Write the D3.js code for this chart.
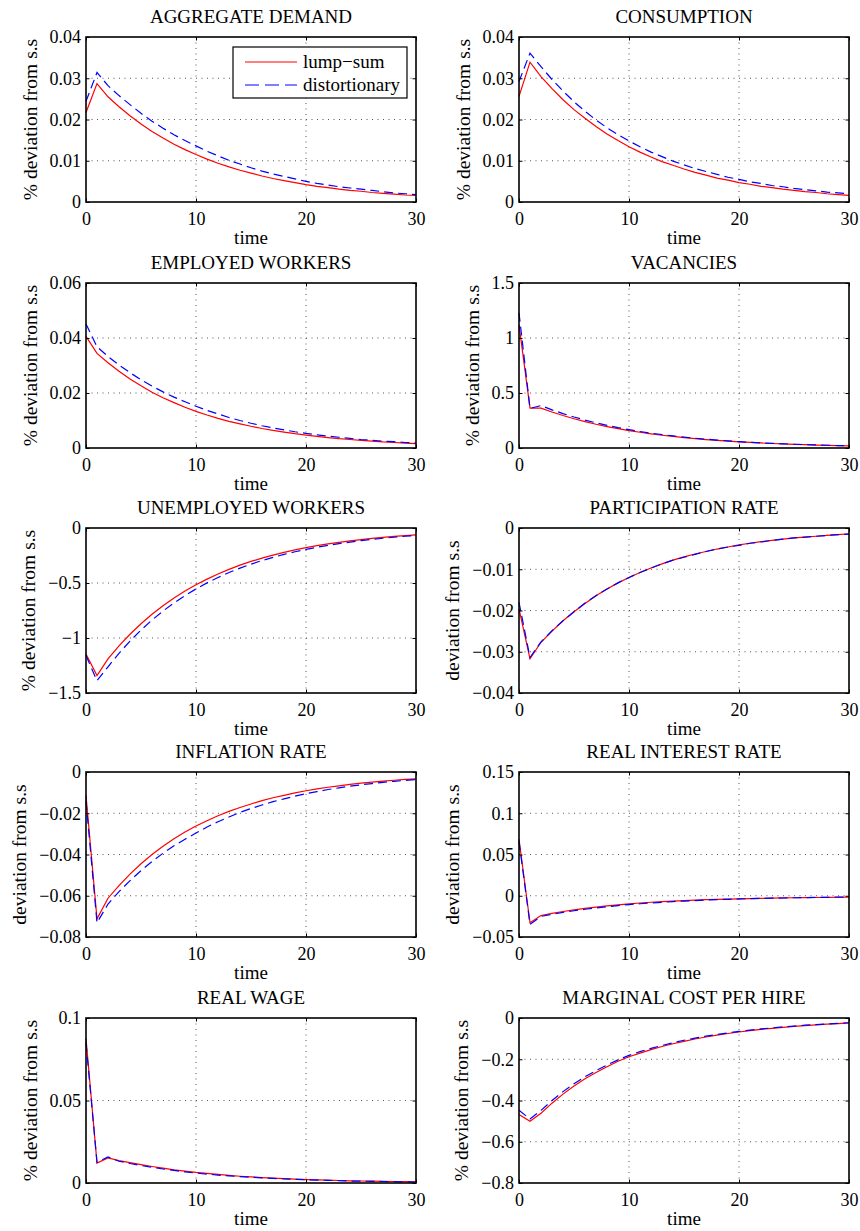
<!DOCTYPE html>
<html>
<head>
<meta charset="utf-8">
<script src="https://cdn.jsdelivr.net/npm/d3@7"></script>
<style>
  body { margin: 0; background: #fff; }
</style>
</head>
<body>
<div id="chart"></div>
<script>
// ---- data ----
const time = [0,1,2,3,4,5,6,7,8,9,10,11,12,13,14,15,16,17,18,19,20,21,22,23,24,25,26,27,28,29,30];
const xTicks = [0, 10, 20, 30];

const titles = ["AGGREGATE DEMAND", "CONSUMPTION", "EMPLOYED WORKERS", "VACANCIES",
  "UNEMPLOYED WORKERS", "PARTICIPATION RATE", "INFLATION RATE", "REAL INTEREST RATE",
  "REAL WAGE", "MARGINAL COST PER HIRE"];

const yLabels = ["% deviation from s.s", "% deviation from s.s", "% deviation from s.s",
  "% deviation from s.s", "% deviation from s.s", "deviation from s.s", "deviation from s.s",
  "deviation from s.s", "% deviation from s.s", "% deviation from s.s"];

const yTicks = [
  [0, 0.01, 0.02, 0.03, 0.04],
  [0, 0.01, 0.02, 0.03, 0.04],
  [0, 0.02, 0.04, 0.06],
  [0, 0.5, 1, 1.5],
  [-1.5, -1, -0.5, 0],
  [-0.04, -0.03, -0.02, -0.01, 0],
  [-0.08, -0.06, -0.04, -0.02, 0],
  [-0.05, 0, 0.05, 0.1, 0.15],
  [0, 0.05, 0.1],
  [-0.8, -0.6, -0.4, -0.2, 0]
];

const legendLabels = ["lump\u2212sum", "distortionary"];

// lump-sum (red, solid)
const adLump  = [0.0217,0.0287,0.0255,0.0231,0.0209,0.0189,0.0171,0.0155,0.0140,0.0127,0.0115,0.0104,0.0094,0.0085,0.0077,0.0070,0.0063,0.0057,0.0052,0.0047,0.0042,0.0038,0.0035,0.0031,0.0028,0.0026,0.0023,0.0021,0.0019,0.0017,0.0016];
const cLump   = [0.0256,0.0339,0.0304,0.0275,0.0248,0.0224,0.0203,0.0183,0.0165,0.0149,0.0134,0.0121,0.0109,0.0098,0.0089,0.0080,0.0072,0.0065,0.0058,0.0053,0.0047,0.0043,0.0038,0.0035,0.0031,0.0028,0.0025,0.0023,0.0020,0.0018,0.0016];
const nLump   = [0.0406,0.0344,0.0310,0.0279,0.0251,0.0226,0.0203,0.0183,0.0165,0.0148,0.0133,0.0120,0.0108,0.0097,0.0088,0.0079,0.0071,0.0064,0.0058,0.0052,0.0047,0.0042,0.0038,0.0034,0.0031,0.0028,0.0025,0.0022,0.0020,0.0018,0.0016];
const vLump   = [1.12,0.362,0.362,0.327,0.295,0.266,0.240,0.216,0.195,0.176,0.158,0.143,0.129,0.116,0.105,0.094,0.085,0.077,0.069,0.062,0.056,0.051,0.046,0.041,0.037,0.033,0.030,0.027,0.024,0.022,0.020];
const uLump   = [-1.145,-1.342,-1.19,-1.072,-0.966,-0.870,-0.784,-0.706,-0.636,-0.573,-0.516,-0.465,-0.418,-0.376,-0.338,-0.304,-0.274,-0.246,-0.221,-0.199,-0.179,-0.161,-0.145,-0.130,-0.117,-0.105,-0.095,-0.085,-0.077,-0.069,-0.062];
const prLump  = [-0.0196,-0.0317,-0.0277,-0.0250,-0.0225,-0.0203,-0.0183,-0.0164,-0.0148,-0.0133,-0.0120,-0.0108,-0.0097,-0.0087,-0.0078,-0.0070,-0.0063,-0.0057,-0.0051,-0.0046,-0.0041,-0.0037,-0.0033,-0.0030,-0.0027,-0.0024,-0.0022,-0.0020,-0.0018,-0.0016,-0.0014];
const piLump  = [-0.0114,-0.0712,-0.0612,-0.0551,-0.0495,-0.0445,-0.0400,-0.0360,-0.0324,-0.0291,-0.0262,-0.0236,-0.0212,-0.0191,-0.0172,-0.0155,-0.0139,-0.0125,-0.0113,-0.0101,-0.0091,-0.0082,-0.0074,-0.0067,-0.0060,-0.0054,-0.0049,-0.0044,-0.0040,-0.0036,-0.0033];
const rLump   = [0.0685,-0.0327,-0.0239,-0.0214,-0.0191,-0.0171,-0.0153,-0.0137,-0.0123,-0.0110,-0.0098,-0.0088,-0.0079,-0.0071,-0.0064,-0.0058,-0.0053,-0.0048,-0.0044,-0.0040,-0.0037,-0.0034,-0.0031,-0.0029,-0.0026,-0.0024,-0.0022,-0.0021,-0.0019,-0.0018,-0.0017];
const wLump   = [0.0875,0.0121,0.0152,0.0136,0.0123,0.0111,0.0100,0.0090,0.0080,0.0072,0.0064,0.0058,0.0052,0.0046,0.0041,0.0037,0.0033,0.0030,0.0027,0.0024,0.0021,0.0019,0.0017,0.0015,0.0013,0.0012,0.0011,0.0010,0.0009,0.0008,0.0007];
const mcLump  = [-0.468,-0.501,-0.462,-0.413,-0.369,-0.330,-0.295,-0.264,-0.236,-0.210,-0.188,-0.170,-0.153,-0.138,-0.125,-0.113,-0.102,-0.092,-0.083,-0.075,-0.068,-0.061,-0.055,-0.050,-0.045,-0.041,-0.037,-0.033,-0.030,-0.027,-0.024];

// distortionary (blue, dashed)
const adDist  = [0.0244,0.0314,0.0282,0.0258,0.0236,0.0215,0.0196,0.0179,0.0163,0.0149,0.0136,0.0123,0.0112,0.0101,0.0092,0.0083,0.0075,0.0068,0.0062,0.0056,0.0050,0.0045,0.0041,0.0037,0.0034,0.0031,0.0028,0.0025,0.0022,0.0020,0.0018];
const cDist   = [0.0292,0.0361,0.0328,0.0297,0.0269,0.0243,0.0220,0.0199,0.0180,0.0163,0.0148,0.0134,0.0121,0.0110,0.0099,0.0090,0.0081,0.0074,0.0067,0.0060,0.0055,0.0049,0.0045,0.0040,0.0037,0.0033,0.0030,0.0027,0.0024,0.0022,0.0020];
const nDist   = [0.0451,0.0368,0.0333,0.0302,0.0274,0.0248,0.0225,0.0204,0.0185,0.0168,0.0152,0.0137,0.0124,0.0111,0.0100,0.0090,0.0081,0.0073,0.0066,0.0059,0.0053,0.0048,0.0043,0.0039,0.0035,0.0031,0.0028,0.0025,0.0023,0.0020,0.0018];
const vDist   = [1.23,0.36,0.386,0.347,0.313,0.282,0.254,0.229,0.206,0.185,0.167,0.150,0.135,0.122,0.110,0.099,0.089,0.080,0.072,0.065,0.058,0.052,0.047,0.042,0.038,0.034,0.031,0.028,0.025,0.022,0.020];
const uDist   = [-1.16,-1.388,-1.262,-1.139,-1.028,-0.928,-0.837,-0.755,-0.681,-0.614,-0.554,-0.499,-0.450,-0.405,-0.365,-0.329,-0.296,-0.267,-0.240,-0.216,-0.195,-0.175,-0.158,-0.142,-0.128,-0.115,-0.103,-0.093,-0.084,-0.075,-0.068];
const prDist  = [-0.0180,-0.0314,-0.0276,-0.0249,-0.0225,-0.0203,-0.0182,-0.0164,-0.0148,-0.0133,-0.0120,-0.0108,-0.0097,-0.0087,-0.0078,-0.0071,-0.0064,-0.0057,-0.0051,-0.0046,-0.0042,-0.0037,-0.0034,-0.0030,-0.0027,-0.0024,-0.0022,-0.0020,-0.0018,-0.0016,-0.0015];
const piDist  = [-0.0140,-0.0731,-0.0640,-0.0580,-0.0527,-0.0478,-0.0434,-0.0394,-0.0358,-0.0326,-0.0296,-0.0267,-0.0241,-0.0218,-0.0196,-0.0177,-0.0160,-0.0144,-0.0130,-0.0117,-0.0105,-0.0095,-0.0085,-0.0077,-0.0069,-0.0062,-0.0056,-0.0050,-0.0045,-0.0041,-0.0037];
const rDist   = [0.066,-0.0347,-0.0250,-0.0225,-0.0202,-0.0182,-0.0164,-0.0148,-0.0133,-0.0119,-0.0107,-0.0097,-0.0087,-0.0079,-0.0071,-0.0064,-0.0058,-0.0052,-0.0047,-0.0043,-0.0039,-0.0035,-0.0032,-0.0029,-0.0027,-0.0024,-0.0022,-0.0020,-0.0019,-0.0017,-0.0016];
const wDist   = [0.085,0.0125,0.0158,0.0132,0.0118,0.0106,0.0095,0.0085,0.0076,0.0068,0.0060,0.0054,0.0048,0.0043,0.0039,0.0035,0.0031,0.0028,0.0025,0.0022,0.0020,0.0018,0.0016,0.0014,0.0012,0.0011,0.0010,0.0009,0.0008,0.0007,0.0006];
const mcDist  = [-0.447,-0.490,-0.448,-0.400,-0.357,-0.319,-0.285,-0.255,-0.228,-0.203,-0.181,-0.163,-0.147,-0.133,-0.120,-0.108,-0.098,-0.088,-0.080,-0.072,-0.065,-0.059,-0.053,-0.048,-0.043,-0.039,-0.035,-0.032,-0.029,-0.026,-0.023];

const lumpSeries = [adLump, cLump, nLump, vLump, uLump, prLump, piLump, rLump, wLump, mcLump];
const distSeries = [adDist, cDist, nDist, vDist, uDist, prDist, piDist, rDist, wDist, mcDist];

(function () {
  const W = 860, H = 1231;
  const colLeft = [86, 519];
  const rowTop  = [37, 283, 528, 772, 1018];
  const plotW = 330, plotH = 165;
  const tickLen = 3.5;
  const serif = '"Liberation Serif", "Times New Roman", serif';

  const svg = d3.select("#chart").append("svg")
      .attr("width", W)
      .attr("height", H);

  // matlab-ish numbers: shortest form, real minus sign
  const fmt = v => {
    const s = String(+Math.abs(v).toFixed(6));
    return (v < 0 ? "\u2212" : "") + s;
  };

  titles.forEach((title, i) => {
    const col = i % 2, row = Math.floor(i / 2);
    const g = svg.append("g")
        .attr("transform", `translate(${colLeft[col]},${rowTop[row]})`);

    const x = d3.scaleLinear().domain([0, 30]).range([0, plotW]);
    const y = d3.scaleLinear().domain(d3.extent(yTicks[i])).range([plotH, 0]);

    // dotted grid (interior ticks only)
    g.selectAll(".gx").data(xTicks.slice(1, -1)).join("line")
      .attr("x1", d => x(d)).attr("x2", d => x(d))
      .attr("y1", 0).attr("y2", plotH)
      .attr("stroke", "#555").attr("stroke-width", 1)
      .attr("stroke-dasharray", "1,4.5");
    g.selectAll(".gy").data(yTicks[i].slice(1, -1)).join("line")
      .attr("x1", 0).attr("x2", plotW)
      .attr("y1", d => y(d)).attr("y2", d => y(d))
      .attr("stroke", "#555").attr("stroke-width", 1)
      .attr("stroke-dasharray", "1,4.5");

    // series
    const line = d3.line()
      .x((d, j) => x(time[j]))
      .y(d => y(d));

    g.append("path")
      .attr("d", line(lumpSeries[i]))
      .attr("fill", "none")
      .attr("stroke", "#ff0000")
      .attr("stroke-width", 1.2);

    g.append("path")
      .attr("d", line(distSeries[i]))
      .attr("fill", "none")
      .attr("stroke", "#0000ff")
      .attr("stroke-width", 1.2)
      .attr("stroke-dasharray", "9,5");

    // axes, ticks pointing inward
    const xAxis = g.append("g")
      .attr("transform", `translate(0,${plotH})`)
      .call(d3.axisBottom(x).tickValues(xTicks).tickSize(-tickLen).tickPadding(10).tickFormat(fmt));
    g.append("g")
      .call(d3.axisTop(x).tickValues(xTicks).tickSize(-tickLen).tickFormat(""));
    const yAxis = g.append("g")
      .call(d3.axisLeft(y).tickValues(yTicks[i]).tickSize(-tickLen).tickPadding(5).tickFormat(fmt));
    g.append("g")
      .attr("transform", `translate(${plotW},0)`)
      .call(d3.axisRight(y).tickValues(yTicks[i]).tickSize(-tickLen).tickFormat(""));

    g.selectAll(".domain").remove();
    g.selectAll(".tick line").attr("stroke", "#000").attr("stroke-width", 1);
    xAxis.selectAll("text").attr("font-size", 18);
    yAxis.selectAll("text").attr("font-size", 18);

    // box
    g.append("rect")
      .attr("width", plotW).attr("height", plotH)
      .attr("fill", "none")
      .attr("stroke", "#000")
      .attr("stroke-width", 1.6);

    // title
    g.append("text")
      .attr("x", plotW / 2).attr("y", -14)
      .attr("text-anchor", "middle")
      .attr("font-size", 19)
      .text(title);

    // x label
    g.append("text")
      .attr("x", plotW / 2).attr("y", plotH + 42)
      .attr("text-anchor", "middle")
      .attr("font-size", 19)
      .text("time");

    // y label sits just left of the tick labels
    yAxis.selectAll("text").style("font-family", serif);
    const bb = yAxis.node().getBBox();
    g.append("text")
      .attr("transform", `translate(${bb.x - 13},${plotH / 2}) rotate(-90)`)
      .attr("text-anchor", "middle")
      .attr("font-size", 19.5)
      .text(yLabels[i]);

    // legend only in first panel
    if (i === 0) {
      const lg = g.append("g").attr("transform", "translate(147,10)");
      lg.append("rect")
        .attr("width", 174).attr("height", 51)
        .attr("fill", "#fff")
        .attr("stroke", "#000")
        .attr("stroke-width", 1.2);
      const rows = lg.selectAll(".lg-row").data(legendLabels).join("g")
        .attr("class", "lg-row")
        .attr("transform", (d, k) => `translate(0,${15 + k * 23})`);
      rows.append("line")
        .attr("x1", 12).attr("x2", 64)
        .attr("stroke", (d, k) => k === 0 ? "#ff0000" : "#0000ff")
        .attr("stroke-width", 1.2)
        .attr("stroke-dasharray", (d, k) => k === 0 ? null : "14,6");
      rows.append("text")
        .attr("x", 70).attr("dy", "0.32em")
        .attr("font-size", 19)
        .text(d => d);
    }
  });

  // one serif face for every label
  svg.selectAll("text").style("font-family", serif).attr("fill", "#000");
})();
</script>
</body>
</html>
